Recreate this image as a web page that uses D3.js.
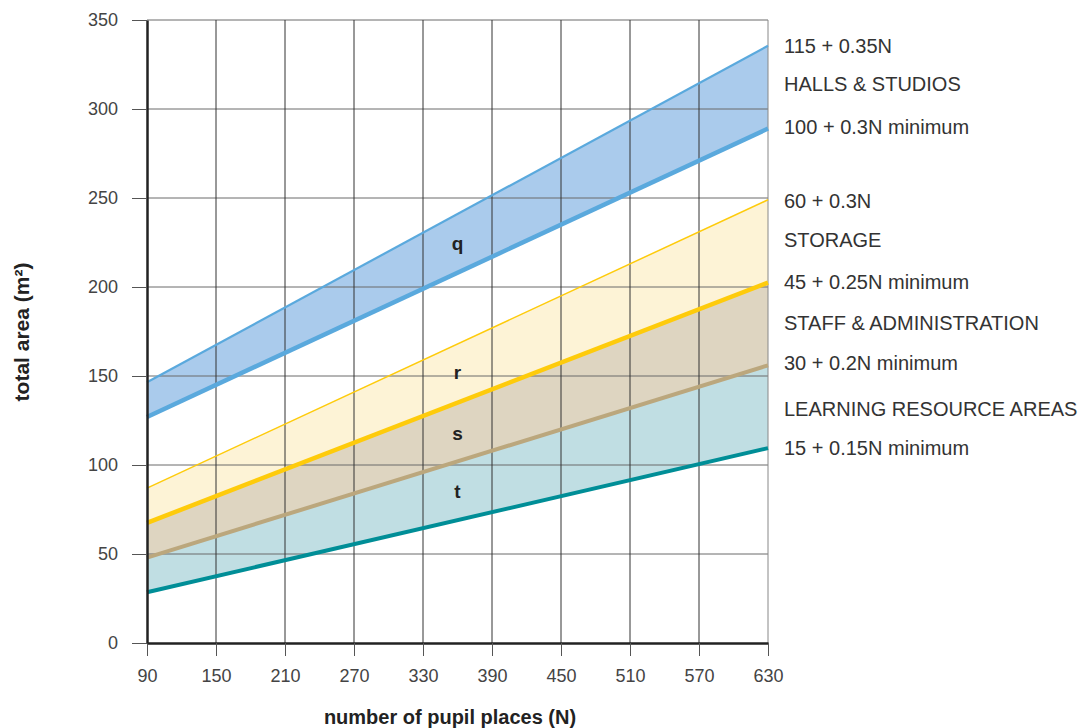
<!DOCTYPE html>
<html>
<head>
<meta charset="utf-8">
<script src="https://cdn.jsdelivr.net/npm/d3@7"></script>
<style>
  body { margin: 0; background: #fff; }
  svg { font-family: "Liberation Sans", Arial, sans-serif; }
</style>
</head>
<body>
<div id="chart"></div>
<script>
const width = 1080;
const height = 728;

const xTicks = [90, 150, 210, 270, 330, 390, 450, 510, 570, 630];
const yTicks = [0, 50, 100, 150, 200, 250, 300, 350];
const xEnds = [90, 630];

// line values read at N = 90 and N = 630
const hallsUpper = [146.5, 335.5];
const hallsMin = [127, 289];
const storageUpper = [87, 249];
const staffMin = [67.5, 202.5];
const learningUpper = [48, 156];
const learningMin = [28.5, 109.5];

const bandLabels = ['q', 'r', 's', 't'];
const bandLabelN = [360, 360, 360, 360];
const bandLabelY = [224.7, 152, 118, 85.4];

const sideLabels = ['115 + 0.35N', 'HALLS & STUDIOS', '100 + 0.3N minimum', '60 + 0.3N', 'STORAGE',
  '45 + 0.25N minimum', 'STAFF & ADMINISTRATION', '30 + 0.2N minimum', 'LEARNING RESOURCE AREAS', '15 + 0.15N minimum'];
const sideLabelY = [46, 84, 127, 201, 240, 282, 323, 363, 409, 448];

const x = d3.scaleLinear().domain([90, 630]).range([147, 768]);
const y = d3.scaleLinear().domain([0, 350]).range([643, 20]);

const svg = d3.select('#chart').append('svg')
    .attr('width', width)
    .attr('height', height);

function pts(vals) { return xEnds.map((n, i) => [n, vals[i]]); }

const area = d3.area()
    .x(d => x(d[0]))
    .y0(d => y(d[1]))
    .y1(d => y(d[2]));

const bands = [
  {lo: hallsMin, hi: hallsUpper, fill: '#aacbec'},
  {lo: staffMin, hi: storageUpper, fill: '#fdf3d6'},
  {lo: learningUpper, hi: staffMin, fill: '#ded5c1'},
  {lo: learningMin, hi: learningUpper, fill: '#c0dee3'},
];

svg.selectAll('path.band')
  .data(bands)
  .join('path')
    .attr('class', 'band')
    .attr('fill', d => d.fill)
    .attr('d', d => area(xEnds.map((n, i) => [n, d.lo[i], d.hi[i]])));

// grid
svg.append('g').selectAll('line')
  .data(yTicks.slice(1))
  .join('line')
    .attr('x1', x(90)).attr('x2', x(630))
    .attr('y1', d => y(d)).attr('y2', d => y(d))
    .attr('stroke', '#6a6a6a').attr('stroke-width', 1);

svg.append('g').selectAll('line')
  .data(xTicks.slice(1))
  .join('line')
    .attr('x1', d => x(d)).attr('x2', d => x(d))
    .attr('y1', y(350)).attr('y2', y(0))
    .attr('stroke', d => d === 630 ? '#888' : '#333').attr('stroke-width', 1);

// lines
const line = d3.line().x(d => x(d[0])).y(d => y(d[1]));
const lines = [
  {v: learningMin, c: '#008e97', w: 4},
  {v: learningUpper, c: '#bba77d', w: 4},
  {v: staffMin, c: '#fecb0b', w: 4.5},
  {v: storageUpper, c: '#fecb0b', w: 1.5},
  {v: hallsMin, c: '#5aa9dd', w: 4.5},
  {v: hallsUpper, c: '#5aa9dd', w: 2.2},
];
svg.selectAll('path.ln')
  .data(lines)
  .join('path')
    .attr('class', 'ln')
    .attr('fill', 'none')
    .attr('stroke', d => d.c)
    .attr('stroke-width', d => d.w)
    .attr('d', d => line(pts(d.v)));

// axes
const xAxis = svg.append('g')
    .attr('transform', `translate(0,${y(0)})`)
    .call(d3.axisBottom(x).tickValues(xTicks).tickSize(13).tickPadding(13).tickSizeOuter(0));
const yAxis = svg.append('g')
    .attr('transform', `translate(${x(90)},0)`)
    .call(d3.axisLeft(y).tickValues(yTicks).tickSize(15).tickPadding(14).tickSizeOuter(0));

[xAxis, yAxis].forEach(g => {
  g.select('.domain').attr('stroke', '#222').attr('stroke-width', 2.5);
  g.selectAll('.tick line').attr('stroke', '#555').attr('stroke-width', 1);
  g.selectAll('.tick text')
    .attr('font-family', '"Liberation Sans", Arial, sans-serif')
    .attr('font-size', 18)
    .attr('fill', '#444');
});
yAxis.selectAll('.tick text').attr('dy', '0.32em');

// band labels
svg.append('g').selectAll('text')
  .data(bandLabels)
  .join('text')
    .attr('x', (d, i) => x(bandLabelN[i]))
    .attr('y', (d, i) => y(bandLabelY[i]))
    .attr('dy', '0.35em')
    .attr('text-anchor', 'middle')
    .attr('font-weight', 'bold')
    .attr('font-size', 19)
    .attr('fill', '#222')
    .text(d => d);

// side labels
svg.append('g').selectAll('text')
  .data(sideLabels)
  .join('text')
    .attr('x', 784)
    .attr('y', (d, i) => sideLabelY[i])
    .attr('dy', '0.35em')
    .attr('font-size', 20)
    .attr('fill', '#333')
    .text(d => d);

// axis titles
svg.append('text')
    .attr('x', 450)
    .attr('y', 717)
    .attr('dy', '0.35em')
    .attr('text-anchor', 'middle')
    .attr('font-weight', 'bold')
    .attr('font-size', 20)
    .attr('fill', '#222')
    .text('number of pupil places (N)');

svg.append('text')
    .attr('transform', 'translate(22,332) rotate(-90)')
    .attr('dy', '0.35em')
    .attr('text-anchor', 'middle')
    .attr('font-weight', 'bold')
    .attr('font-size', 21)
    .attr('fill', '#222')
    .text('total area (m²)');
</script>
</body>
</html>
